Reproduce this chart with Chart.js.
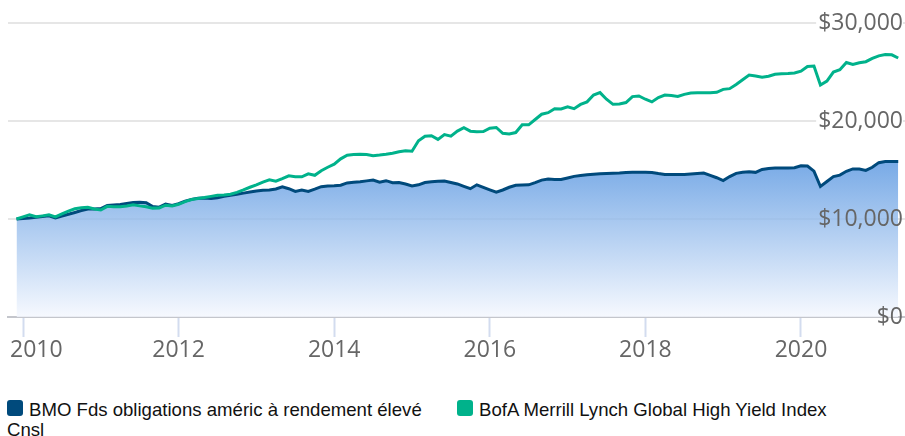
<!DOCTYPE html>
<html>
<head>
<meta charset="utf-8">
<title>Croissance de 10 000 $</title>
<script src="https://cdn.jsdelivr.net/npm/chart.js@4.4.0/dist/chart.umd.min.js"></script>
<style>
  body { margin: 0; background: #fff; }
  #wrap { position: relative; width: 905px; height: 436px; overflow: hidden; }
  #growthChart { position: absolute; left: 0; top: 0; }
  .legend-item {
    position: absolute;
    top: 400px;
    font-family: "Liberation Sans", Arial, sans-serif;
    font-size: 18.6px;
    line-height: 20px;
    color: #111;
    text-indent: 22px;
  }
  .legend-item .swatch {
    position: absolute;
    left: 0;
    top: 0;
    width: 16px;
    height: 16px;
    border-radius: 3px;
  }
</style>
</head>
<body>
<div id="wrap">
  <canvas id="growthChart" width="905" height="370"></canvas>
  <div class="legend-item" style="left:7px; width:440px;">
    <span class="swatch" style="background:#004a7c"></span>BMO Fds obligations améric à rendement élevé Cnsl
  </div>
  <div class="legend-item" style="left:457px; width:440px;">
    <span class="swatch" style="background:#00b28b"></span>BofA Merrill Lynch Global High Yield Index
  </div>
</div>

<script>
// Monthly values of a $10,000 investment, Dec 2009 - Apr 2021
const startYear = 2009;
const startMonth = 11; // December (0-based)

const bmoFund = [
  10000, 10050, 10100, 10180, 10260, 10320, 10110, 10300, 10490, 10670,
  10860, 11020, 11020, 11060, 11370, 11430, 11490, 11590, 11690, 11720,
  11670, 11270, 11210, 11520, 11390, 11570, 11830, 12000, 12130, 12140,
  12090, 12170, 12310, 12430, 12530, 12640, 12750, 12860, 12930, 12970,
  13070, 13280, 13090, 12820, 12960, 12820, 13050, 13300, 13360, 13390,
  13450, 13680, 13760, 13800, 13890, 13970, 13750, 13910, 13710, 13720,
  13570, 13370, 13490, 13720, 13790, 13850, 13880, 13730, 13580, 13330,
  13090, 13490, 13230, 12980, 12740, 12960, 13240, 13440, 13470, 13490,
  13720, 13970, 14070, 14040, 14030, 14190, 14350, 14430, 14520, 14570,
  14620, 14650, 14680, 14700, 14740, 14780, 14780, 14760, 14750, 14640,
  14550, 14540, 14530, 14530, 14590, 14640, 14690, 14460, 14210, 13920,
  14330, 14660, 14780, 14830, 14760, 15060, 15160, 15200, 15200, 15200,
  15230, 15430, 15400, 14890, 13320, 13830, 14320, 14480, 14870, 15110,
  15110, 14960, 15280, 15750, 15870, 15870, 15870
];

const bofaIndex = [
  10000, 10220, 10420, 10230, 10320, 10420, 10220, 10530, 10800, 11040,
  11150, 11200, 11030, 10920, 11290, 11260, 11240, 11330, 11460, 11340,
  11240, 11110, 11130, 11410, 11320, 11500, 11770, 11990, 12090, 12190,
  12310, 12420, 12460, 12520, 12720, 12970, 13240, 13490, 13770, 13990,
  13850, 14110, 14400, 14310, 14310, 14610, 14460, 14930, 15280, 15590,
  16140, 16510, 16570, 16600, 16590, 16460, 16520, 16600, 16710, 16860,
  16970, 16910, 17980, 18450, 18490, 18120, 18620, 18460, 18970, 19310,
  18960, 18900, 18930, 19260, 19340, 18740, 18670, 18820, 19610, 19610,
  20150, 20690, 20850, 21260, 21220, 21440, 21260, 21690, 21950, 22650,
  22900, 22220, 21700, 21730, 21880, 22490, 22550, 22220, 21950, 22400,
  22650, 22600, 22500, 22720, 22850, 22880, 22890, 22880, 22930, 23230,
  23300, 23720, 24210, 24690, 24600, 24460, 24570, 24760, 24830, 24850,
  24900, 25080, 25560, 25600, 23680, 24080, 25000, 25230, 25970, 25760,
  25950, 26050, 26380, 26650, 26780, 26750, 26430
];

const yTicks = [0, 10000, 20000, 30000];
const xTickYears = [2010, 2012, 2014, 2016, 2018, 2020];

// month positions as fractional years
const months = bmoFund.map((_, i) => startYear + (startMonth + i) / 12);
const toPoints = values => values.map((v, i) => ({ x: months[i], y: v }));

const tickFont = '"Open Sans", "DejaVu Sans", sans-serif';

// year labels under the axis, first one kept inside the canvas
const yearLabels = {
  id: 'yearLabels',
  afterDraw(chart) {
    const { ctx, chartArea } = chart;
    const xs = chart.scales.x;
    ctx.save();
    ctx.font = '23px ' + tickFont;
    ctx.fillStyle = '#666666';
    ctx.textBaseline = 'alphabetic';
    xTickYears.forEach(year => {
      const text = String(year);
      const w = ctx.measureText(text).width;
      const left = Math.max(xs.getPixelForValue(year) - w / 2, 10);
      ctx.fillText(text, left, chartArea.bottom + 40);
    });
    ctx.restore();
  }
};

// blue area: fades from the top of the fund line down to the axis,
// slightly see-through so the grid line shows
function areaGradient(context) {
  const chart = context.chart;
  const { ctx, chartArea } = chart;
  if (!chartArea) return 'rgba(86,149,224,0.8)';
  const top = chart.scales.y.getPixelForValue(Math.max(...bmoFund));
  const g = ctx.createLinearGradient(0, top, 0, chartArea.bottom);
  g.addColorStop(0, 'rgba(86,149,224,0.8)');
  g.addColorStop(1, 'rgba(244,247,254,0.8)');
  return g;
}

const ctx = document.getElementById('growthChart').getContext('2d');
new Chart(ctx, {
  type: 'line',
  data: {
    datasets: [
      {
        label: 'BMO Fds obligations améric à rendement élevé Cnsl',
        data: toPoints(bmoFund),
        borderColor: '#004a7c',
        borderWidth: 3,
        backgroundColor: areaGradient,
        fill: 'origin',
        pointRadius: 0,
        tension: 0,
        order: 1
      },
      {
        label: 'BofA Merrill Lynch Global High Yield Index',
        data: toPoints(bofaIndex),
        borderColor: '#00b28b',
        borderWidth: 3,
        fill: false,
        pointRadius: 0,
        tension: 0,
        order: 0
      }
    ]
  },
  options: {
    responsive: false,
    animation: false,
    layout: { padding: { left: 8, right: 0, top: 23, bottom: 33 } },
    plugins: {
      legend: { display: false },
      tooltip: { enabled: false }
    },
    scales: {
      x: {
        type: 'linear',
        min: 2009.807,
        max: 2021.337,
        grid: {
          drawOnChartArea: false,
          drawTicks: true,
          tickLength: 20,
          tickWidth: 2,
          tickColor: '#d3dcef'
        },
        border: { display: true, color: '#c4c6cc', width: 2 },
        ticks: { display: false, stepSize: 2, includeBounds: false }
      },
      y: {
        position: 'right',
        min: yTicks[0],
        max: yTicks[yTicks.length - 1],
        afterBuildTicks: scale => { scale.ticks = yTicks.map(v => ({ value: v })); },
        // labels sit inside the plot, so the axis takes no room
        afterFit: scale => { scale.width = 0; },
        // grid under the series, dollar labels on top of them
        grid: { color: '#e6e6e6', lineWidth: 2, drawTicks: false, z: -1 },
        border: { display: false },
        ticks: {
          z: 1,
          mirror: true,
          padding: -2,
          color: '#666666',
          font: { family: tickFont, size: 23 },
          showLabelBackdrop: c => c.tick && c.tick.value >= 20000,
          backdropColor: '#ffffff',
          backdropPadding: { left: 2, right: 0, top: 0, bottom: 0 },
          callback: v => '$' + v.toLocaleString('en-US')
        }
      }
    }
  },
  plugins: [yearLabels]
});
</script>
</body>
</html>
